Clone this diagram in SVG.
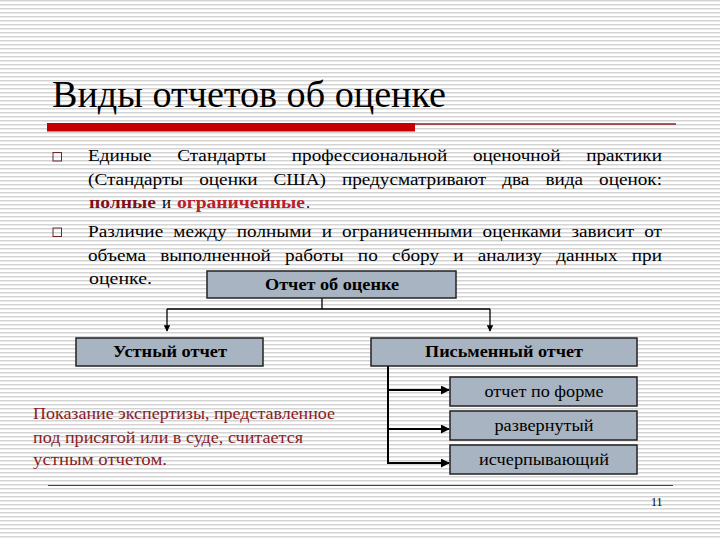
<svg xmlns="http://www.w3.org/2000/svg" width="720" height="540" viewBox="0 0 720 540" font-family="'Liberation Serif', 'Times New Roman', Times, Tinos, 'DejaVu Serif', 'Noto Serif', serif">
<defs>
<pattern id="stripes" x="0" y="0" width="8" height="4" patternUnits="userSpaceOnUse">
<rect width="8" height="4" fill="#ffffff"/>
<rect y="0" width="8" height="1.5" fill="#d4d4d4"/>
</pattern>
<marker id="arr" viewBox="0 0 10 10" refX="9" refY="5" markerWidth="5" markerHeight="5" orient="auto" markerUnits="strokeWidth">
<path d="M0,0 L10,5 L0,10 z" fill="#000"/>
</marker>
<marker id="arrs" viewBox="0 0 10 10" refX="9" refY="5" markerWidth="4.5" markerHeight="4.5" orient="auto" markerUnits="strokeWidth">
<path d="M0,0 L10,5 L0,10 z" fill="#000"/>
</marker>
</defs>
<style>
.box{fill:#a8b4c1;stroke:#222;stroke-width:1.5}
.bul{fill:none;stroke:#6b2a2a;stroke-width:1}
.conn{fill:none;stroke:#000;stroke-width:1.3}
.conn2{fill:none;stroke:#000;stroke-width:2}
.bt{font-size:16px;font-weight:bold;text-anchor:middle;fill:#000}
.st{font-size:16px;text-anchor:middle;fill:#000}
</style>
<rect width="720" height="540" fill="url(#stripes)"/>

<g id="title">
<text x="52" y="107" font-size="38" textLength="394" lengthAdjust="spacingAndGlyphs">Виды отчетов об оценке</text>
<rect x="47" y="123" width="368" height="8.5" fill="#c60000"/>
<line x1="415" y1="124" x2="676" y2="124" stroke="#8b2020" stroke-width="1.3"/>
</g>

<g id="bullets" font-size="16" fill="#000">
<rect class="bul" x="53" y="152.5" width="8.5" height="8.5"/>
<rect class="bul" x="53" y="228" width="8.5" height="8.5"/>
<g transform="translate(88 0) scale(1.2 1)">
<text x="0" y="161" word-spacing="17.4" textLength="478.3" lengthAdjust="spacing">Единые Стандарты профессиональной оценочной практики</text>
<text x="0" y="185" word-spacing="9.4" textLength="478.3" lengthAdjust="spacing">(Стандарты оценки США) предусматривают два вида оценок:</text>
<text x="0" y="237" word-spacing="4.4" textLength="478.3" lengthAdjust="spacing">Различие между полными и ограниченными оценками зависит от</text>
<text x="0" y="261" word-spacing="7.75" textLength="478.3" lengthAdjust="spacing">объема выполненной работы по сбору и анализу данных при</text>
</g>
<text x="89" y="208" font-weight="bold" fill="#7e1019" textLength="67" lengthAdjust="spacingAndGlyphs">полные</text>
<text x="162" y="208" textLength="9" lengthAdjust="spacingAndGlyphs">и</text>
<text x="177" y="208" font-weight="bold" fill="#b8202a" textLength="128" lengthAdjust="spacingAndGlyphs">ограниченные</text>
<text x="306" y="208">.</text>
<text x="89" y="284" textLength="63" lengthAdjust="spacingAndGlyphs">оценке.</text>
</g>

<g id="connectors">
<polyline class="conn" points="322,298 322,309"/>
<polyline class="conn" points="167,309 490,309"/>
<line class="conn" x1="167" y1="309" x2="167" y2="331" marker-end="url(#arr)"/>
<line class="conn" x1="490" y1="309" x2="490" y2="331" marker-end="url(#arr)"/>
<line class="conn2" x1="388" y1="366" x2="388" y2="463"/>
<line class="conn2" x1="387" y1="390" x2="449" y2="390" marker-end="url(#arrs)"/>
<line class="conn2" x1="387" y1="429" x2="449" y2="429" marker-end="url(#arrs)"/>
<line class="conn2" x1="387" y1="463" x2="449" y2="463" marker-end="url(#arrs)"/>
</g>

<g id="node-report">
<rect class="box" x="207" y="271" width="249" height="27"/>
<text class="bt" x="332" y="290" textLength="134" lengthAdjust="spacingAndGlyphs">Отчет об оценке</text>
</g>
<g id="node-oral">
<rect class="box" x="76" y="338" width="187" height="28"/>
<text class="bt" x="170" y="357" textLength="114" lengthAdjust="spacingAndGlyphs">Устный отчет</text>
</g>
<g id="node-written">
<rect class="box" x="371" y="338" width="266" height="28"/>
<text class="bt" x="504" y="357" textLength="158" lengthAdjust="spacingAndGlyphs">Письменный отчет</text>
</g>
<g id="node-form">
<rect class="box" x="450" y="377" width="187" height="29"/>
<text class="st" x="544" y="397" textLength="119" lengthAdjust="spacingAndGlyphs">отчет по форме</text>
</g>
<g id="node-expanded">
<rect class="box" x="450" y="411" width="187" height="29"/>
<text class="st" x="544" y="431" textLength="99" lengthAdjust="spacingAndGlyphs">развернутый</text>
</g>
<g id="node-exhaustive">
<rect class="box" x="450" y="445" width="187" height="29"/>
<text class="st" x="544" y="465" textLength="130" lengthAdjust="spacingAndGlyphs">исчерпывающий</text>
</g>

<g id="note" font-size="16" fill="#8a1c24">
<text x="33" y="419" textLength="302" lengthAdjust="spacingAndGlyphs">Показание экспертизы, представленное</text>
<text x="33" y="443" textLength="270" lengthAdjust="spacingAndGlyphs">под присягой или в суде, считается</text>
<text x="33" y="465" textLength="134" lengthAdjust="spacingAndGlyphs">устным отчетом.</text>
</g>

<g id="footer">
<line x1="48" y1="485.5" x2="673" y2="485.5" stroke="#7a3030" stroke-width="1"/>
<text x="651" y="506" font-size="12">11</text>
</g>
</svg>
